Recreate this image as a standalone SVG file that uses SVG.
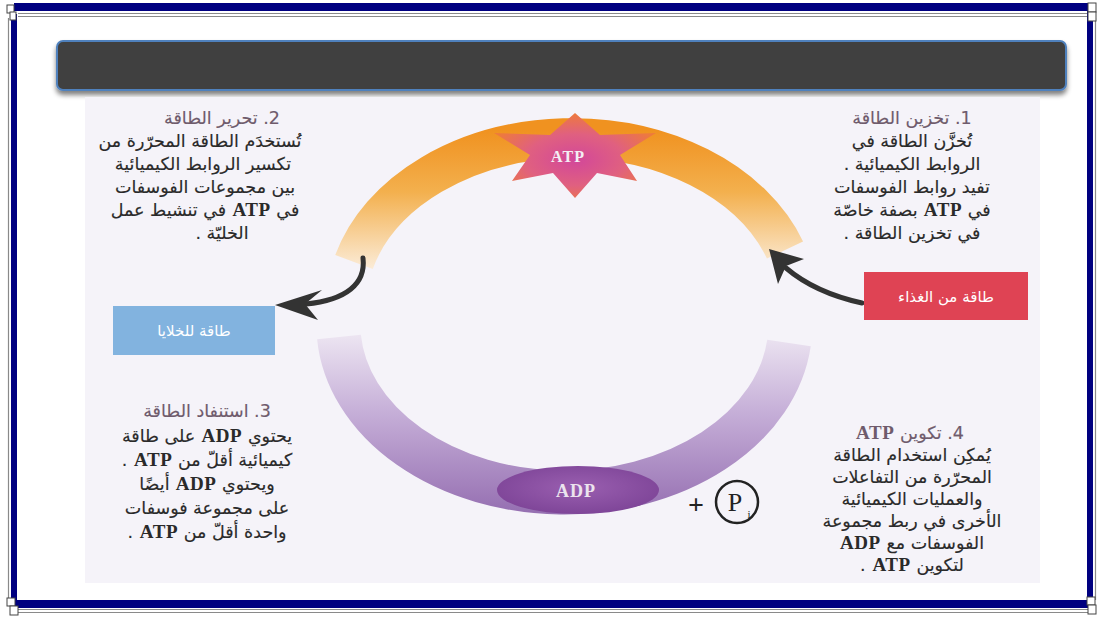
<svg xmlns="http://www.w3.org/2000/svg" width="1104" height="621" viewBox="0 0 1104 621">
<defs>
<style>
.ar{font-family:"DejaVu Sans","Noto Sans",sans-serif;font-size:17.5px;fill:#2a2a2a;text-anchor:middle;direction:rtl;letter-spacing:0.6px;stroke:#2a2a2a;stroke-width:0.15px;}
.hd{fill:#6f5b6c;stroke:#6f5b6c;}
.en{font-family:"Liberation Serif",serif;font-weight:bold;font-size:19px;stroke-width:0;}
.frame{fill:#000080;}
.thin{stroke:#8a8a8a;stroke-width:1.2;fill:none;}
.corner{fill:#fff;stroke:#444;stroke-width:1;}
.arrow{fill:none;stroke:#333;stroke-width:5;stroke-linecap:round;}
.head{fill:#333;}
.lbl{font-family:"DejaVu Sans","Noto Sans",sans-serif;font-size:15px;fill:#fff;text-anchor:middle;direction:rtl;}
</style>
<linearGradient id="gOr" gradientUnits="userSpaceOnUse" x1="0" y1="130" x2="0" y2="268">
<stop offset="0" stop-color="#f09220"/>
<stop offset="0.45" stop-color="#f3b04e"/>
<stop offset="1" stop-color="#fbebd6"/>
</linearGradient>
<linearGradient id="gPu" gradientUnits="userSpaceOnUse" x1="0" y1="330" x2="0" y2="512">
<stop offset="0" stop-color="#efe8f3"/>
<stop offset="0.45" stop-color="#c6afd8"/>
<stop offset="1" stop-color="#9670b2"/>
</linearGradient>
<radialGradient id="gStar" cx="0.5" cy="0.55" r="0.55">
<stop offset="0" stop-color="#d2479a"/>
<stop offset="0.55" stop-color="#e06080"/>
<stop offset="1" stop-color="#ee7a3c"/>
</radialGradient>
<radialGradient id="gAdp" cx="0.5" cy="0.45" r="0.6">
<stop offset="0" stop-color="#9a5fb0"/>
<stop offset="1" stop-color="#7c4396"/>
</radialGradient>
<filter id="sh" x="-5%" y="-30%" width="110%" height="170%">
<feGaussianBlur in="SourceAlpha" stdDeviation="2.5"/>
<feOffset dx="0" dy="4" result="b"/>
<feComponentTransfer><feFuncA type="linear" slope="0.5"/></feComponentTransfer>
<feMerge><feMergeNode/><feMergeNode in="SourceGraphic"/></feMerge>
</filter>
</defs>
<rect width="1104" height="621" fill="#fff"/>

<!-- frame -->
<g id="frame">
<rect class="frame" x="14" y="3" width="1076" height="8"/>
<line class="thin" x1="18" y1="13.5" x2="1090" y2="13.5"/>
<line class="thin" x1="18" y1="16.5" x2="1090" y2="16.5"/>
<rect class="frame" x="11" y="14" width="6" height="588"/>
<line class="thin" x1="8.5" y1="18" x2="8.5" y2="600"/>
<rect class="frame" x="1087" y="10" width="6" height="592"/>
<line class="thin" x1="1095.5" y1="18" x2="1095.5" y2="600"/>
<rect class="frame" x="14" y="600" width="1076" height="8"/>
<line class="thin" x1="18" y1="609.5" x2="1090" y2="609.5"/>
<line class="thin" x1="18" y1="612.5" x2="1090" y2="612.5"/>
<rect class="corner" x="7" y="5" width="7" height="8"/>
<rect class="corner" x="10" y="12" width="6" height="8"/>
<rect class="corner" x="1088" y="3" width="8" height="9"/>
<rect class="corner" x="1088" y="12" width="8" height="9"/>
<rect class="corner" x="7" y="598" width="8" height="8"/>
<rect class="corner" x="10" y="606" width="8" height="9"/>
<rect class="corner" x="1087" y="597" width="8" height="8"/>
<rect class="corner" x="1088" y="605" width="8" height="9"/>
</g>

<!-- title bar -->
<g id="title">
<rect x="57" y="41" width="1009" height="49" rx="6" fill="#404040" stroke="#4f81bd" stroke-width="2" filter="url(#sh)"/>
</g>

<!-- photo background -->
<rect x="85" y="97" width="955" height="486" fill="#f5f3f9"/>

<!-- cycle ring -->
<g id="ring">
<path d="M 354 262 A 226 168 0 0 1 785 250" fill="none" stroke="url(#gOr)" stroke-width="40"/>
<path d="M 339 337 A 226 168 0 0 0 789 343" fill="none" stroke="url(#gPu)" stroke-width="44"/>
</g>

<!-- connectors -->
<g id="connectors">
<path class="arrow" d="M 862 303 C 830 296 806 285 786 268"/>
<polygon class="head" points="769,249 804,259 786,266 778,284"/>
<path class="arrow" d="M 363 258 C 366 284 346 300 306 304"/>
<polygon class="head" points="275,305 322,290 305,304 318,320"/>
</g>

<!-- ATP star -->
<g id="atp">
<polygon points="575,113 600,135 656,133 620,155 637,181 597,173 575,198 553,173 512,181 530,155 494,133 550,135" fill="url(#gStar)"/>
<text x="568" y="162" font-family="Liberation Serif, serif" font-weight="bold" font-size="16" fill="#f4eef4" text-anchor="middle" letter-spacing="1">ATP</text>
</g>

<!-- ADP -->
<g id="adp">
<ellipse cx="578" cy="490" rx="81" ry="24" fill="url(#gAdp)"/>
<text x="576" y="497" font-family="Liberation Serif, serif" font-weight="bold" font-size="18" fill="#ece4ee" text-anchor="middle" letter-spacing="1">ADP</text>
</g>

<!-- Pi -->
<g id="pi">
<text x="696" y="514" font-family="Liberation Serif, serif" font-weight="bold" font-size="28" fill="#222" text-anchor="middle">+</text>
<circle cx="737" cy="502" r="21" fill="none" stroke="#222" stroke-width="2.5"/>
<text x="735" y="511" font-family="Liberation Serif, serif" font-size="26" fill="#222" text-anchor="middle">P</text>
<text x="749" y="518" font-family="Liberation Serif, serif" font-size="11" fill="#222" text-anchor="middle">i</text>
</g>

<!-- food energy box -->
<g id="food">
<rect x="864" y="272" width="164" height="48" fill="#df4354"/>
<text class="lbl" x="946" y="302">طاقة من الغذاء</text>
</g>

<!-- cells energy box -->
<g id="cells">
<rect x="113" y="306" width="162" height="49" fill="#82b3df"/>
<text class="lbl" x="194" y="336">طاقة للخلايا</text>
</g>

<!-- text block 1 -->
<g id="t1">
<text class="ar hd" x="912" y="124">1. تخزين الطاقة</text>
<text class="ar" x="912" y="147">تُخزَّن الطاقة في</text>
<text class="ar" x="912" y="170">الروابط الكيميائية .</text>
<text class="ar" x="912" y="193">تفيد روابط الفوسفات</text>
<text class="ar" x="912" y="216">في <tspan class="en">ATP</tspan> بصفة خاصّة</text>
<text class="ar" x="912" y="239">في تخزين الطاقة .</text>
</g>

<!-- text block 2 -->
<g id="t2">
<text class="ar hd" x="222" y="124">2. تحرير الطاقة</text>
<text class="ar" x="200" y="147">تُستخدَم الطاقة المحرّرة من</text>
<text class="ar" x="203" y="170">تكسير الروابط الكيميائية</text>
<text class="ar" x="205" y="193">بين مجموعات الفوسفات</text>
<text class="ar" x="205" y="216">في <tspan class="en">ATP</tspan> في تنشيط عمل</text>
<text class="ar" x="222" y="239">الخليّة .</text>
</g>

<!-- text block 3 -->
<g id="t3">
<text class="ar hd" x="207" y="417">3. استنفاد الطاقة</text>
<text class="ar" x="207" y="442">يحتوي <tspan class="en">ADP</tspan> على طاقة</text>
<text class="ar" x="207" y="466">كيميائية أقلّ من <tspan class="en">ATP</tspan> .</text>
<text class="ar" x="207" y="490">ويحتوي <tspan class="en">ADP</tspan> أيضًا</text>
<text class="ar" x="207" y="514">على مجموعة فوسفات</text>
<text class="ar" x="207" y="538">واحدة أقلّ من <tspan class="en">ATP</tspan> .</text>
</g>

<!-- text block 4 -->
<g id="t4">
<text class="ar hd" x="910" y="439">4. تكوين <tspan class="en">ATP</tspan></text>
<text class="ar" x="912" y="461">يُمكِن استخدام الطاقة</text>
<text class="ar" x="912" y="483">المحرّرة من التفاعلات</text>
<text class="ar" x="912" y="505">والعمليات الكيميائية</text>
<text class="ar" x="912" y="527">الأخرى في ربط مجموعة</text>
<text class="ar" x="912" y="549">الفوسفات مع <tspan class="en">ADP</tspan></text>
<text class="ar" x="912" y="571">لتكوين <tspan class="en">ATP</tspan> .</text>
</g>
</svg>
